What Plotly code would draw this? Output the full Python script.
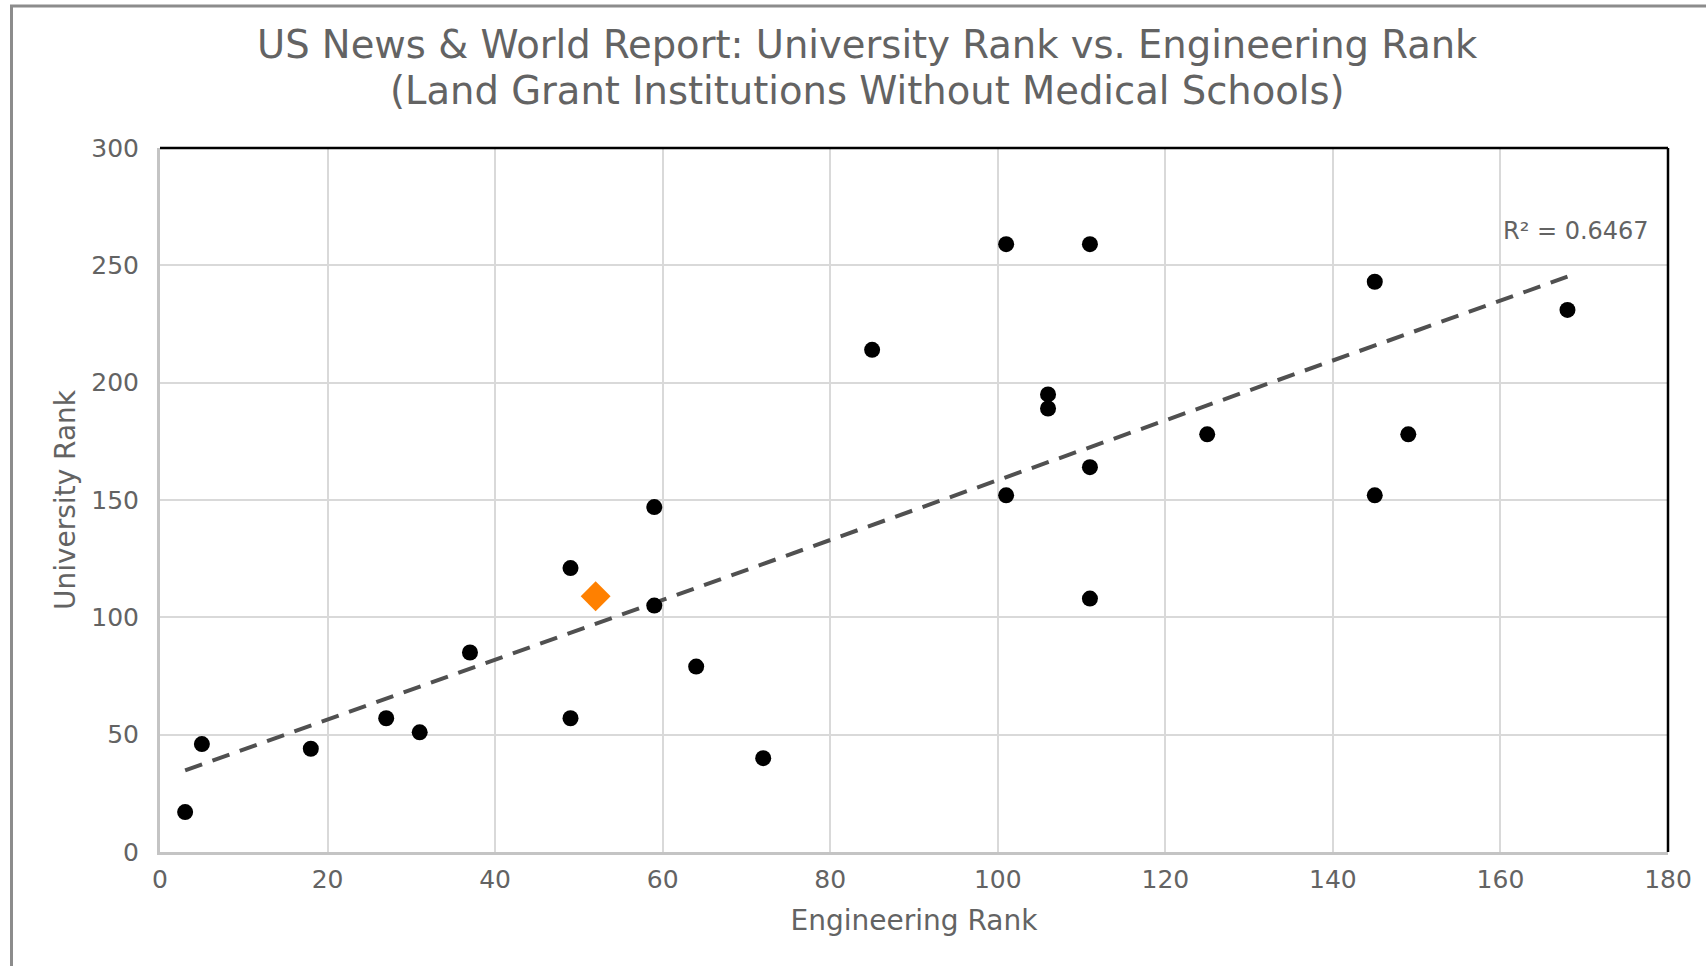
import numpy as np
import plotly.graph_objects as go

# Data
eng_rank = [3, 5, 18, 27, 31, 37, 49, 49, 59, 59, 64, 72, 85, 101, 111, 106, 106,
            101, 111, 111, 125, 145, 145, 149, 168]
univ_rank = [17, 46, 44, 57, 51, 85, 121, 57, 147, 105, 79, 40, 214, 259, 259, 195, 189,
             152, 164, 108, 178, 243, 152, 178, 231]
highlight_eng = [52]
highlight_univ = [109]
r2_text = "R² = 0.6467"
title_line1 = "US News & World Report: University Rank vs. Engineering Rank"
title_line2 = "(Land Grant Institutions Without Medical Schools)"

x_ticks = list(range(0, 181, 20))
y_ticks = list(range(0, 301, 50))

# Linear trendline
xa = np.array(eng_rank, dtype=float)
ya = np.array(univ_rank, dtype=float)
slope, intercept = np.polyfit(xa, ya, 1)
tx = np.array([xa.min(), xa.max()])
ty = slope * tx + intercept

FONT = "DejaVu Sans"
GREY = "#636363"

W, H = 1706, 966
L, R, T, B = 160, 1668, 148, 852
pw, ph = R - L, B - T

fig = go.Figure()
fig.add_trace(go.Scatter(x=tx, y=ty, mode="lines",
                         line=dict(color="#505050", width=4, dash="18px,11px"),
                         hoverinfo="skip", showlegend=False))
fig.add_trace(go.Scatter(x=eng_rank, y=univ_rank, mode="markers",
                         marker=dict(color="black", size=16, symbol="circle"),
                         showlegend=False))
fig.add_trace(go.Scatter(x=highlight_eng, y=highlight_univ, mode="markers",
                         marker=dict(color="#FF8000", size=23, symbol="diamond"),
                         showlegend=False))

fig.update_layout(
    width=W, height=H,
    margin=dict(l=L, r=W - R, t=T, b=H - B),
    paper_bgcolor="white", plot_bgcolor="white",
    font=dict(family=FONT, color=GREY, size=25),
    showlegend=False,
)
fig.update_xaxes(range=[0, 180], tickvals=x_ticks, showgrid=True, gridcolor="#d9d9d9",
                 gridwidth=2, zeroline=False, showline=True, linecolor="#c4c4c4",
                 linewidth=3, ticks="", tickfont=dict(size=25, color=GREY),
                 ticklabelstandoff=3,
                 title=dict(text="Engineering Rank", font=dict(size=28, color=GREY), standoff=18))
fig.update_yaxes(range=[0, 300], tickvals=y_ticks, showgrid=True, gridcolor="#d9d9d9",
                 gridwidth=2, zeroline=False, showline=True, linecolor="#c4c4c4",
                 linewidth=3, ticks="", tickfont=dict(size=25, color=GREY),
                 ticklabelstandoff=13,
                 title=dict(text="University Rank", font=dict(size=28, color=GREY), standoff=8))

# Plot-area border (top/right black)
fig.add_shape(type="line", xref="paper", yref="paper", x0=0, x1=1, y0=1, y1=1,
              line=dict(color="black", width=2.5), layer="above")
fig.add_shape(type="line", xref="paper", yref="paper", x0=1, x1=1, y0=0, y1=1,
              line=dict(color="black", width=2.5), layer="above")
# Chart-area border (left/top visible, rest cropped)
fig.add_shape(type="rect", xref="paper", yref="paper",
              x0=(11.5 - L) / pw, x1=(W + 20 - L) / pw,
              y0=-(H + 20 - B) / ph, y1=1 + (T - 6) / ph,
              line=dict(color="#8c8c8c", width=3), layer="below")

fig.add_annotation(xref="paper", yref="paper", x=(867 - L) / pw, y=1 + (T - 44) / ph,
                   text=title_line1, showarrow=False,
                   font=dict(size=38.5, color=GREY, family=FONT),
                   xanchor="center", yanchor="middle")
fig.add_annotation(xref="paper", yref="paper", x=(867 - L) / pw, y=1 + (T - 90) / ph,
                   text=title_line2, showarrow=False,
                   font=dict(size=38.5, color=GREY, family=FONT),
                   xanchor="center", yanchor="middle")
fig.add_annotation(xref="paper", yref="paper", x=(1651 - L) / pw, y=(B - 231) / ph,
                   text=r2_text, showarrow=False, xanchor="right", yanchor="middle",
                   font=dict(size=24, color=GREY, family=FONT))

fig.write_html("out.html", config={"displayModeBar": False},
               post_script="document.body.style.margin='0px';")
